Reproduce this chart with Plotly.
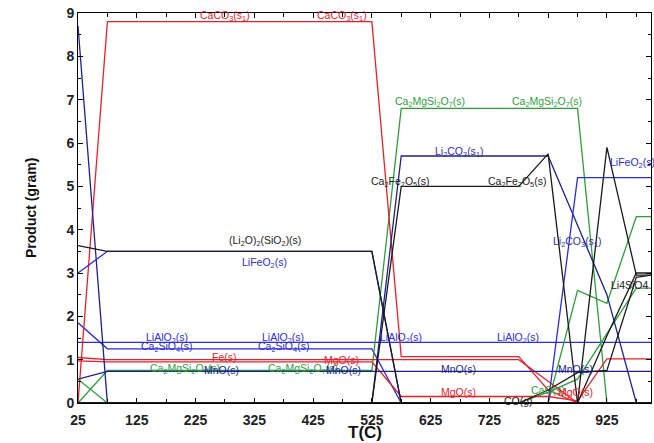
import plotly.graph_objects as go

T = [25, 75, 125, 175, 225, 275, 325, 375, 425, 475, 525,
     575, 625, 675, 725, 775, 825, 875, 925, 975, 1000]

caco3      = [0.0] + [8.8]*10 + [1.07]*5 + [0.3, 0.0, 0.0, 0.0, 0.0]
fe         = [1.05] + [1.0]*10 + [1.0]*5 + [0.5, 0.0, 0.0, 0.0, 0.0]
mgo        = [0.97] + [0.95]*10 + [0.15]*5 + [0.15, 0.05, 1.02, 1.02, 1.02]
navy_left  = [8.7] + [0.0]*10 + [0.0]*5 + [0.0, 0.0, 0.0, 0.0, 0.0]
li2co3     = [0.0] + [0.0]*10 + [5.7]*5 + [5.7, 4.1, 2.5, 0.0, 0.0]
lifeo2     = [3.0] + [3.5]*10 + [0.0]*5 + [0.0, 5.2, 5.2, 5.2, 5.2]
li2o_sio2  = [3.63] + [3.5]*10 + [0.0]*5 + [0.0, 0.0, 0.0, 0.0, 0.0]
ca2fe2o5   = [0.0] + [0.0]*10 + [5.0]*5 + [5.75, 0.0, 0.0, 0.0, 0.0]
black_peak = [0.0] + [0.0]*10 + [0.0]*5 + [0.0, 0.0, 5.9, 2.95, 2.95]
li4sio4    = [0.0] + [0.0]*10 + [0.0]*5 + [0.0, 0.0, 1.55, 3.0, 3.0]
co_g       = [0.0] + [0.0]*10 + [0.0]*5 + [0.3, 0.7, 0.75, 2.9, 2.95]
cao        = [0.55] + [0.0]*10 + [0.0]*5 + [0.25, 0.55, 1.6, 2.65, 2.65]
green2     = [0.0] + [0.0]*10 + [0.0]*5 + [0.0, 2.6, 2.3, 4.3, 4.3]
ca2mgsi2o7 = [0.0] + [0.75]*10 + [6.8]*5 + [6.8, 6.8, 0.0, 0.0, 0.0]
mno        = [0.55] + [0.73]*10 + [0.73]*5 + [0.73, 0.73, 0.73, 0.73, 0.73]
ca2sio4    = [1.85] + [1.25]*10 + [0.0]*5 + [0.0, 0.0, 0.0, 0.0, 0.0]
lialo2     = [1.4] + [1.4]*10 + [1.4]*5 + [1.4, 1.4, 1.4, 1.4, 1.4]

x_ticks = [25, 125, 225, 325, 425, 525, 625, 725, 825, 925]
x_minor = [75, 175, 275, 375, 475, 575, 675, 775, 875, 975]

RED = "#e8202a"
GREEN = "#2e9e3a"
BLUE = "#2b2bdc"
NAVY = "#1f1f8f"
BLACK = "#1a1a1a"
LABEL_NAVY = "#3030a8"

series = [
    ("LiAlO2", lialo2, BLUE),
    ("Ca2SiO4", ca2sio4, BLUE),
    ("CaO", cao, GREEN),
    ("green2", green2, GREEN),
    ("Ca2MgSi2O7", ca2mgsi2o7, GREEN),
    ("MgO", mgo, RED),
    ("Fe", fe, RED),
    ("CaCO3", caco3, RED),
    ("MnO", mno, NAVY),
    ("navy_left", navy_left, NAVY),
    ("Li2CO3", li2co3, NAVY),
    ("LiFeO2", lifeo2, BLUE),
    ("(Li2O)2(SiO2)", li2o_sio2, BLACK),
    ("Ca2Fe2O5", ca2fe2o5, BLACK),
    ("black_peak", black_peak, BLACK),
    ("Li4SiO4", li4sio4, BLACK),
    ("CO(g)", co_g, BLACK),
]

fig = go.Figure()
for name, vals, col in series:
    fig.add_trace(go.Scatter(x=T, y=vals, mode="lines", name=name,
                             line=dict(color=col, width=1.3), showlegend=False))

labels = [
    ("CaCO<sub>3</sub>(s<sub>1</sub>)", 275, 8.93, RED),
    ("CaCO<sub>3</sub>(s<sub>1</sub>)", 474, 8.93, RED),
    ("Ca<sub>2</sub>MgSi<sub>2</sub>O<sub>7</sub>(s)", 624, 6.95, GREEN),
    ("Ca<sub>2</sub>MgSi<sub>2</sub>O<sub>7</sub>(s)", 823, 6.95, GREEN),
    ("Li<sub>2</sub>CO<sub>3</sub>(s<sub>1</sub>)", 673, 5.8, LABEL_NAVY),
    ("Ca<sub>2</sub>Fe<sub>2</sub>O<sub>5</sub>(s)", 573, 5.1, BLACK),
    ("Ca<sub>2</sub>Fe<sub>2</sub>O<sub>5</sub>(s)", 772, 5.1, BLACK),
    ("Li<sub>2</sub>CO<sub>3</sub>(s<sub>1</sub>)", 874, 3.72, LABEL_NAVY),
    ("Li4SiO4", 964, 2.72, BLACK),
    ("(Li<sub>2</sub>O)<sub>2</sub>(SiO<sub>2</sub>)(s)", 343, 3.74, BLACK),
    ("LiFeO<sub>2</sub>(s)", 343, 3.23, BLUE),
    ("LiAlO<sub>2</sub>(s)", 176, 1.5, BLUE),
    ("LiAlO<sub>2</sub>(s)", 374, 1.5, BLUE),
    ("LiAlO<sub>2</sub>(s)", 575, 1.5, BLUE),
    ("LiAlO<sub>2</sub>(s)", 774, 1.5, BLUE),
    ("Ca<sub>2</sub>SiO<sub>4</sub>(s)", 176, 1.29, BLUE),
    ("Ca<sub>2</sub>SiO<sub>4</sub>(s)", 374, 1.29, BLUE),
    ("Fe(s)", 275, 1.07, RED),
    ("MgO(s)", 474, 0.99, RED),
    ("Ca<sub>2</sub>MgSi<sub>2</sub>O<sub>7</sub>(s)", 207, 0.79, GREEN),
    ("MnO(s)", 270, 0.77, NAVY),
    ("Ca<sub>2</sub>MgSi<sub>2</sub>O<sub>7</sub>(s)", 408, 0.79, GREEN),
    ("MnO(s)", 476, 0.77, NAVY),
    ("MnO(s)", 673, 0.79, NAVY),
    ("MnO(s)", 872, 0.79, NAVY),
    ("MgO(s)", 673, 0.26, RED),
    ("CaO(s)", 825, 0.3, GREEN),
    ("MgO(s)", 871, 0.25, RED),
    ("CO(g)", 774, 0.04, BLACK),
]
for txt, x, y, col in labels:
    fig.add_annotation(x=x, y=y, text=txt, showarrow=False,
                       font=dict(family="Liberation Sans, Arial", size=10.5, color=col),
                       xanchor="center", yanchor="middle")
fig.add_annotation(x=927, y=5.54, text="LiFeO<sub>2</sub>(s)", showarrow=False,
                   font=dict(family="Liberation Sans, Arial", size=10.5, color=BLUE),
                   xanchor="left", yanchor="middle")

axis_common = dict(showline=True, linecolor="black", linewidth=1, mirror="allticks",
                   ticks="inside", ticklen=5, tickcolor="black", showgrid=False,
                   zeroline=False,
                   tickfont=dict(family="Liberation Sans, Arial", size=14,
                                 color="#222", weight="bold"))

fig.update_xaxes(range=[25, 1000], tickmode="array",
                 tickvals=x_ticks, ticktext=[str(v) for v in x_ticks],
                 ticklabelstandoff=4,
                 minor=dict(tickmode="array", tickvals=x_minor,
                            ticks="inside", ticklen=4, tickcolor="black"),
                 **axis_common)
fig.update_yaxes(range=[0, 9], tickmode="linear", tick0=0, dtick=1,
                 minor=dict(dtick=0.5, ticks="inside", ticklen=3, tickcolor="black"),
                 **axis_common)

fig.add_annotation(xref="paper", yref="paper", x=0.5, y=0, yshift=-29,
                   text="T(C)", showarrow=False, xanchor="center", yanchor="middle",
                   font=dict(family="Liberation Sans, Arial", size=17, color="#111", weight="bold"))
fig.add_annotation(xref="paper", yref="paper", x=0, y=0.5, xshift=-47,
                   text="Product (gram)", showarrow=False, textangle=-90,
                   xanchor="center", yanchor="middle",
                   font=dict(family="Liberation Sans, Arial", size=14, color="#111", weight="bold"))

fig.update_layout(width=654, height=443, margin=dict(l=78, r=3, t=13, b=40),
                  plot_bgcolor="white", paper_bgcolor="white")

fig.write_html("out.html")
